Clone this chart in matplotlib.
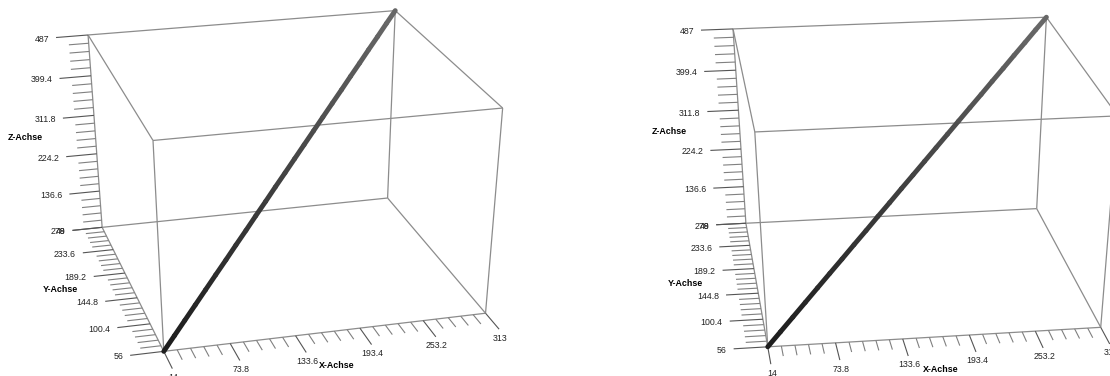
import numpy as np
import matplotlib
matplotlib.use("Agg")
import matplotlib.pyplot as plt
from matplotlib.collections import LineCollection

plt.rcParams['font.family'] = ['Liberation Sans', 'DejaVu Sans']

# ---- data ----
x_ticks = [14, 73.8, 133.6, 193.4, 253.2, 313]
y_ticks = [56, 100.4, 144.8, 189.2, 233.6, 278]
z_ticks = [49, 136.6, 224.2, 311.8, 399.4, 487]
x_labels = ["14", "73.8", "133.6", "193.4", "253.2", "313"]
y_labels = ["56", "100.4", "144.8", "189.2", "233.6", "278"]
z_labels = ["49", "136.6", "224.2", "311.8", "399.4", "487"]
axis_titles = ["X-Achse", "Y-Achse", "Z-Achse"]

series_x = [14, 26.5, 38.9, 51.4, 63.8, 76.3, 88.8, 101.2, 113.7, 126.1, 138.6, 151, 163.5,
            176, 188.4, 200.9, 213.3, 225.8, 238.3, 250.7, 263.2, 275.6, 288.1, 300.5, 313]
series_y = [56, 65.3, 74.5, 83.8, 93, 102.3, 111.5, 120.8, 130, 139.3, 148.5, 157.8, 167,
            176.3, 185.5, 194.8, 204, 213.3, 222.5, 231.8, 241, 250.3, 259.5, 268.8, 278]
series_z = [49, 67.3, 85.5, 103.8, 122, 140.3, 158.5, 176.8, 195, 213.3, 231.5, 249.8, 268,
            286.3, 304.5, 322.8, 341, 359.3, 377.5, 395.8, 414, 432.3, 450.5, 468.8, 487]

# ---- layout: pixel position of the cube corners, keyed by (x, y, z) in 0/1 ----
panels = [
    {"corners": {(0, 0, 0): (164, 351), (1, 0, 0): (485, 314),
                 (0, 1, 0): (102, 228), (1, 1, 0): (388, 197),
                 (0, 1, 1): (88, 35), (1, 1, 1): (395, 11),
                 (0, 0, 1): (153, 140), (1, 0, 1): (503, 108)},
     "titles": [(337, 366), (60, 290), (25, 138)]},
    {"corners": {(0, 0, 0): (767.5, 347), (1, 0, 0): (1100.5, 327),
                 (0, 1, 0): (746, 223), (1, 1, 0): (1037, 209),
                 (0, 1, 1): (733, 29), (1, 1, 1): (1046, 17),
                 (0, 0, 1): (755, 132), (1, 0, 1): (1118, 116)},
     "titles": [(941, 370), (685, 283), (669, 132)]},
]
BOX = "#8c8c8c"
TICK_MAJOR = "#555555"
TICK_MINOR = "#808080"
TEXT = "#222222"


def fit_projection(corners):
    """Perspective camera matrix fitted to the eight cube corners."""
    rows, rhs = [], []
    for (X, Y, Z), (u, v) in corners.items():
        u, v = u / 1000, v / 1000
        rows.append([X, Y, Z, 1, 0, 0, 0, 0, -u * X, -u * Y, -u * Z])
        rows.append([0, 0, 0, 0, X, Y, Z, 1, -v * X, -v * Y, -v * Z])
        rhs += [u, v]
    p = np.linalg.lstsq(np.array(rows), np.array(rhs), rcond=None)[0]
    return np.append(p, 1).reshape(3, 4)


def project(P, X, Y, Z):
    h = P @ np.array([X, Y, Z, 1.0])
    return h[0] / h[2] * 1000, h[1] / h[2] * 1000


def norm(values, ticks):
    return (np.asarray(values, float) - ticks[0]) / (ticks[-1] - ticks[0])


fig = plt.figure(figsize=(11.10, 3.76), dpi=100)
ax = fig.add_axes([0, 0, 1, 1])
ax.set_xlim(0, 1110)
ax.set_ylim(376, 0)
ax.axis("off")

EDGES = [((0, 0, 0), (1, 0, 0)), ((0, 1, 0), (1, 1, 0)), ((0, 0, 1), (1, 0, 1)),
         ((0, 1, 1), (1, 1, 1)), ((0, 0, 0), (0, 1, 0)), ((1, 0, 0), (1, 1, 0)),
         ((0, 0, 1), (0, 1, 1)), ((1, 0, 1), (1, 1, 1)), ((0, 0, 0), (0, 0, 1)),
         ((1, 0, 0), (1, 0, 1)), ((0, 1, 0), (0, 1, 1)), ((1, 1, 0), (1, 1, 1))]
TICK_MAJ_LEN, TICK_MIN_LEN = 0.10, 0.062
XTICK_MAJ_LEN, XTICK_MIN_LEN = 0.12, 0.07
font_tick = dict(fontsize=6.3, color=TEXT)
font_title = dict(fontsize=6.4, color="black", fontweight="bold", ha="center", va="center")


def seg(P, a, b, color, lw=0.9):
    pa, pb = project(P, *a), project(P, *b)
    ax.plot([pa[0], pb[0]], [pa[1], pb[1]], color=color, lw=lw,
            solid_capstyle="butt", zorder=2)
    return pb


for panel in panels:
    P = fit_projection(panel["corners"])
    for a, b in EDGES:
        seg(P, a, b, BOX)

    n = 5
    for i in range(n * 5 + 1):
        t = i / (n * 5)
        major = i % 5 == 0
        col = TICK_MAJOR if major else TICK_MINOR

        # X ticks: along the front-bottom edge, pointing towards the viewer
        end = seg(P, (t, 0, 0), (t, -(XTICK_MAJ_LEN if major else XTICK_MIN_LEN), 0), col, 0.8)
        if major:
            ax.text(end[0] + 1, end[1] + 9, x_labels[i // 5], ha="center", va="center", **font_tick)

        # Y ticks: along the left-bottom edge, pointing left
        end = seg(P, (0, t, 0), (-(TICK_MAJ_LEN if major else TICK_MIN_LEN), t, 0), col, 0.8)
        if major:
            ax.text(end[0] - 7, end[1] + 1.5, y_labels[i // 5], ha="right", va="center", **font_tick)

        # Z ticks: along the back-left edge, pointing left
        end = seg(P, (0, 1, t), (-(TICK_MAJ_LEN if major else TICK_MIN_LEN), 1, t), col, 0.8)
        if major:
            ax.text(end[0] - 7, end[1] + 1.5, z_labels[i // 5], ha="right", va="center", **font_tick)

    for label, (tx, ty) in zip(axis_titles, panel["titles"]):
        ax.text(tx, ty, label, **font_title)

    # data series
    nx, ny, nz = norm(series_x, x_ticks), norm(series_y, y_ticks), norm(series_z, z_ticks)
    pts = np.array([project(P, a, b, c) for a, b, c in zip(nx, ny, nz)])
    segs = np.stack([pts[:-1], pts[1:]], axis=1)
    greys = [str(0.11 + 0.30 * (nz[i] + nz[i + 1]) / 2) for i in range(len(segs))]
    ax.add_collection(LineCollection(segs, colors=greys, linewidths=3.5,
                                     capstyle="round", zorder=3))

fig.savefig("out.png", dpi=100)
